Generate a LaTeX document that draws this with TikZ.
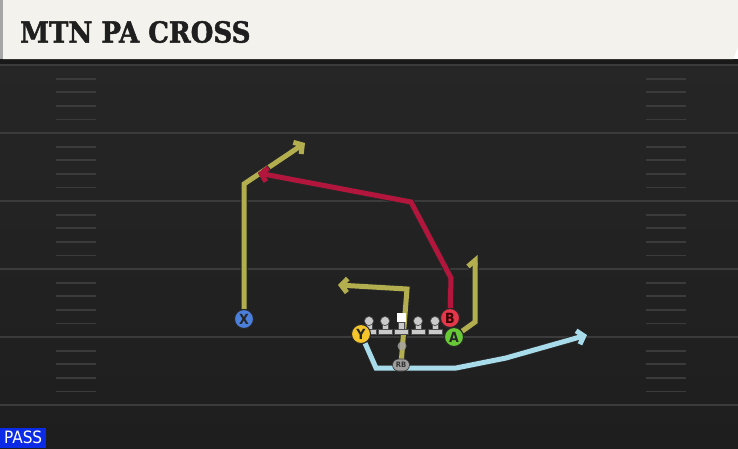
\documentclass[tikz,border=0pt]{standalone}
\usepackage{fontspec}
\newfontfamily\playfont{DejaVu Serif Condensed}[BoldFeatures={FakeBold=1.6}]
\newfontfamily\tagfont{DejaVu Sans Condensed}
\usetikzlibrary{arrows.meta,shapes.misc}

\definecolor{fieldtop}{HTML}{262626}
\definecolor{fieldbottom}{HTML}{1E1E1E}
\definecolor{yardline}{HTML}{3B3B3B}
\definecolor{cream}{HTML}{F4F2EC}
\definecolor{olive}{HTML}{B3AF4F}
\definecolor{crimson}{HTML}{B3163C}
\definecolor{skyblue}{HTML}{A8DCEB}
\definecolor{xblue}{HTML}{4B7FDC}
\definecolor{yyellow}{HTML}{F6C42B}
\definecolor{bred}{HTML}{E4374A}
\definecolor{agreen}{HTML}{68C936}
\definecolor{passblue}{HTML}{0B2BE6}
\definecolor{linegray}{HTML}{CACACA}

\tikzset{
  player/.style={circle, draw=black!85, line width=1pt, minimum size=19pt, inner sep=0pt,
    font=\tagfont\bfseries\fontsize{14}{14}\selectfont, text=black!85},
  route/.style={line width=5pt, line join=miter,
    preaction={draw=black!85, line width=7pt}},
  barb/.style={-{Straight Barb[length=6pt,width=14pt]}},
  halfbarb/.style={-{Straight Barb[length=6pt,width=14pt,harpoon]}},
  lineman/.pic={
    \fill[linegray, draw=black!70, line width=0.7pt] (-3,-12) rectangle (3,-3);
    \fill[linegray, draw=black!70, line width=0.7pt] (-7,-4.5) rectangle (7,0);
    \fill[linegray, draw=black!70, line width=0.7pt] (0,-13) circle (4.6);
  },
  snapper/.pic={
    \fill[linegray, draw=black!70, line width=0.7pt] (-3,-12) rectangle (3,-3);
    \fill[linegray, draw=black!70, line width=0.7pt] (-7,-4.5) rectangle (7,0);
    \fill[white] (-4.5,-21) rectangle (4.5,-12);
  }
}

\begin{document}
\begin{tikzpicture}[x=1pt, y=-1pt]
  \useasboundingbox (0,0) rectangle (738,448);
  % field
  \shade[top color=fieldtop, bottom color=fieldbottom] (0,59) rectangle (738,448);
  \fill[black!90] (0,59) rectangle (738,64);
  \foreach \yl in {65,133,201,269,337,405}
    \draw[yardline, line width=2pt] (0,\yl) -- (738,\yl);
  \foreach \yl in {65,133,201,269,337}
    \foreach \k in {1,...,4} {
      \draw[yardline, line width=1.8pt] (56,\yl+13.6*\k) -- (96,\yl+13.6*\k);
      \draw[yardline, line width=1.8pt] (646,\yl+13.6*\k) -- (686,\yl+13.6*\k);
    }

  % title bar
  \fill[black!35] (0,0) rectangle (3,59);
  \fill[cream] (3,0) -- (738,0) -- (738,47) -- (733,59) -- (3,59) -- cycle;
  \node[anchor=west, inner sep=0pt, text=black!88,
    font=\playfont\bfseries\fontsize{29}{29}\selectfont] (title) at (20,32) {MTN PA CROSS};

  % players
  \node[player, fill=xblue] (X) at (244,319) {X};
  \node[player, fill=yyellow] (Y) at (361,334) {Y};
  \node[player, fill=bred, text=black!80!red] (B) at (450,318) {B};
  \node[player, fill=agreen] (A) at (454,337) {A};

  \coordinate (xbreak) at (244,184);
  \coordinate (xend) at (305,143);
  \coordinate (bbreak) at (451,278);
  \coordinate (bturn) at (411,202);
  \coordinate (bend) at (258,173);
  \coordinate (abreak) at (475,322);
  \coordinate (aend) at (475,255);
  \coordinate (rbbreak) at (407,289);
  \coordinate (rbend) at (338,285);
  \coordinate (ybreak) at (376,368);
  \coordinate (yflat) at (456,368);
  \coordinate (ybend) at (506,358);
  \coordinate (yend) at (587,335);
  \coordinate (rbspot) at (401,365);

  % routes
  \draw[route, skyblue, barb] (Y) -- (ybreak) -- (yflat) -- (ybend) -- (yend);
  \draw[route, olive, barb] (rbspot) -- (rbbreak) -- (rbend);
  \draw[route, olive, barb] (X) -- (xbreak) -- (xend);
  \draw[route, crimson, barb] (B) -- (bbreak) -- (bturn) -- (bend);
  \draw[route, olive, halfbarb] (A) -- (abreak) -- (aend);

  % line
  \foreach \lx in {369,385,418,435}
    \pic at (\lx,334) {lineman};
  \pic at (401,334) {snapper};
  \node[circle, fill=gray!70, opacity=0.8, minimum size=9pt, inner sep=0pt] (qb) at (402,346) {};
  \node[rounded rectangle, fill=gray!75, draw=black!80, line width=0.6pt,
    minimum width=19pt, minimum height=12pt, inner sep=1pt,
    font=\tagfont\bfseries\fontsize{7.5}{7.5}\selectfont, text=black!80] (rb) at (rbspot) {RB};

  % redraw players on top
  \node[player, fill=xblue] at (X) {X};
  \node[player, fill=yyellow] at (Y) {Y};
  \node[player, fill=bred, text=black!80!red] at (B) {B};
  \node[player, fill=agreen] at (A) {A};

  \node[anchor=south west, fill=passblue, text=white, minimum width=46pt, minimum height=20pt,
    inner sep=0pt, font=\tagfont\fontsize{17}{17}\selectfont] (pass) at (0,448) {PASS};
\end{tikzpicture}
\end{document}
